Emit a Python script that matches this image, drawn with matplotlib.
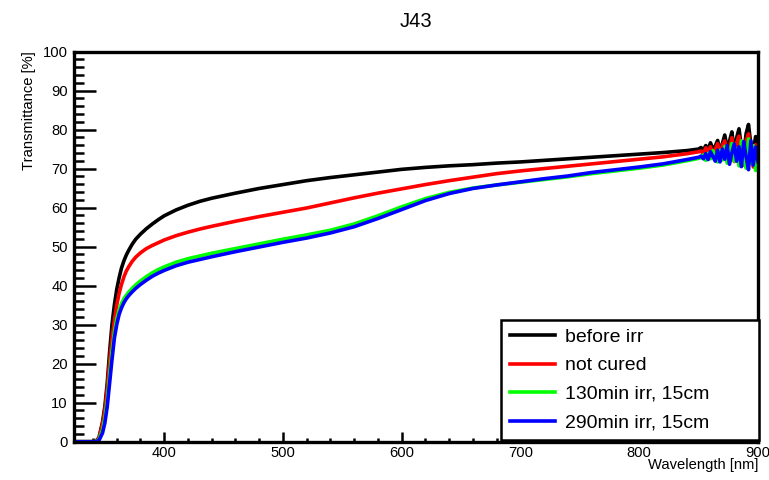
import numpy as np
import matplotlib
matplotlib.use("Agg")
import matplotlib.pyplot as plt
from matplotlib.ticker import MultipleLocator

plt.rcParams['font.family'] = ['Liberation Sans', 'DejaVu Sans']

# Wellenlaengen-Stuetzstellen (nm)
wl_base = [320, 335, 342, 345, 348, 350, 352, 354, 356, 358,
           360, 362, 364, 366, 368, 370, 373, 376, 380, 385,
           390, 395, 400, 410, 420, 430, 440, 460, 480, 500,
           520, 540, 560, 580, 600, 620, 640, 660, 680, 700,
           720, 740, 760, 780, 800, 820, 840, 850]
wl_tail = list(range(852, 901, 2))

before_irr = [0, 0, 0, 1, 5, 9, 15, 23, 30, 35,
              39, 42, 44.5, 46.3, 47.8, 49, 50.6, 51.9, 53.2, 54.6,
              55.8, 56.9, 57.9, 59.4, 60.6, 61.6, 62.4, 63.7, 64.9, 65.9,
              66.9, 67.7, 68.4, 69.1, 69.8, 70.3, 70.7, 71.0, 71.4, 71.7,
              72.1, 72.5, 72.9, 73.3, 73.7, 74.1, 74.6, 75.0,
              75.4, 74.7, 75.9, 75.0, 76.6, 74.9, 75.8, 77.2, 74.6, 76.4,
              78.6, 75.3, 77.0, 79.4, 74.3, 77.9, 80.2, 75.6, 73.9, 79.0,
              81.3, 76.1, 74.4, 78.2, 75.6]
not_cured = [0, 0, 0, 0.8, 4.5, 8, 13.5, 20.5, 26.5, 31,
             35, 38, 40.3, 42.2, 43.7, 44.8, 46.2, 47.3, 48.4, 49.5,
             50.3, 51.0, 51.7, 52.8, 53.7, 54.5, 55.2, 56.5, 57.7, 58.8,
             59.9, 61.2, 62.5, 63.7, 64.8, 65.9, 66.9, 67.8, 68.7, 69.4,
             70.0, 70.6, 71.2, 71.8, 72.4, 73.0, 73.8, 74.3,
             74.5, 73.8, 75.3, 74.2, 75.6, 73.6, 74.9, 76.4, 73.2, 75.9,
             77.1, 72.7, 74.8, 77.9, 71.8, 76.6, 78.3, 73.3, 70.9, 77.2,
             78.9, 73.9, 70.4, 76.1, 73.1]
irr_130 = [0, 0, 0, 0.5, 3, 6, 10.5, 17, 23, 28,
           31.5, 33.8, 35.4, 36.6, 37.5, 38.3, 39.3, 40.2, 41.2, 42.3,
           43.3, 44.1, 44.8, 46.0, 46.9, 47.6, 48.3, 49.5, 50.7, 51.9,
           53.0, 54.2, 55.8, 57.9, 60.2, 62.3, 63.9, 65.0, 65.8, 66.5,
           67.2, 67.9, 68.7, 69.4, 70.1, 70.9, 72.0, 72.6,
           72.8, 73.5, 72.1, 73.9, 72.5, 74.6, 73.0, 71.7, 74.7, 72.2,
           75.7, 71.4, 73.6, 76.4, 71.9, 75.1, 70.7, 77.1, 72.3, 70.1,
           77.6, 71.4, 75.9, 69.5, 72.1]
irr_290 = [0, 0, 0, 0.3, 2.2, 4.8, 9, 15, 21, 26.5,
           30, 32.6, 34.3, 35.6, 36.6, 37.4, 38.4, 39.3, 40.3, 41.4,
           42.4, 43.2, 43.9, 45.1, 46.0, 46.7, 47.4, 48.7, 49.9, 51.1,
           52.2, 53.5, 55.1, 57.2, 59.5, 61.8, 63.6, 64.9, 65.8, 66.6,
           67.4, 68.1, 69.0, 69.7, 70.4, 71.2, 72.3, 72.9,
           73.2, 72.5, 73.8, 72.3, 74.3, 73.1, 71.9, 74.7, 71.7, 75.0,
           72.4, 75.9, 71.1, 74.0, 76.3, 71.9, 75.6, 70.5, 76.9, 73.0,
           69.7, 77.1, 70.9, 75.5, 71.8]

labels = ['before irr', 'not cured', '130min irr, 15cm', '290min irr, 15cm']
colors = ['#000000', '#ff0000', '#00ff00', '#0000ff']

wl = np.array(wl_base + wl_tail)
series = [before_irr, not_cured, irr_130, irr_290]

fig = plt.figure(figsize=(7.69, 4.80), dpi=100)
ax = fig.add_axes([0.0962, 0.0798, 0.8895, 0.8129])

for y, c, lab in zip(series, colors, labels):
    ax.plot(wl, y, color=c, lw=2.6, label=lab)

ax.set_xlim(324, 900)
ax.set_ylim(0, 100)

ax.xaxis.set_major_locator(MultipleLocator(100))
ax.xaxis.set_minor_locator(MultipleLocator(20))
ax.yaxis.set_major_locator(MultipleLocator(10))
ax.yaxis.set_minor_locator(MultipleLocator(2))

for s in ax.spines.values():
    s.set_linewidth(2.4)

ax.tick_params(axis='both', which='both', direction='in', width=1.8, labelsize=10.6)
ax.tick_params(axis='y', which='major', length=15.5, pad=4.5)
ax.tick_params(axis='y', which='minor', length=7)
ax.tick_params(axis='x', which='major', length=7, pad=3)
ax.tick_params(axis='x', which='minor', length=3)

ax.set_xlabel('Wavelength [nm]', fontsize=10.6, loc='right')
ax.xaxis.set_label_coords(1.0, -0.042)
ax.set_ylabel('Transmittance [%]', fontsize=10.6, loc='top')
ax.yaxis.set_label_coords(-0.056, 1.0)

fig.text(0.541, 0.956, 'J43', ha='center', va='center', fontsize=14.5)

leg = ax.legend(loc='lower left', bbox_to_anchor=(0.625, 0.004, 0.377, 0.308),
                mode='expand', borderaxespad=0, fontsize=14, handlelength=2.3,
                handletextpad=0.5, labelspacing=0.56, fancybox=False,
                framealpha=1, edgecolor='black', borderpad=0.45)
leg.get_frame().set_linewidth(1.8)
for h in leg.legend_handles:
    h.set_linewidth(2.6)

fig.savefig('out.png', dpi=100)
